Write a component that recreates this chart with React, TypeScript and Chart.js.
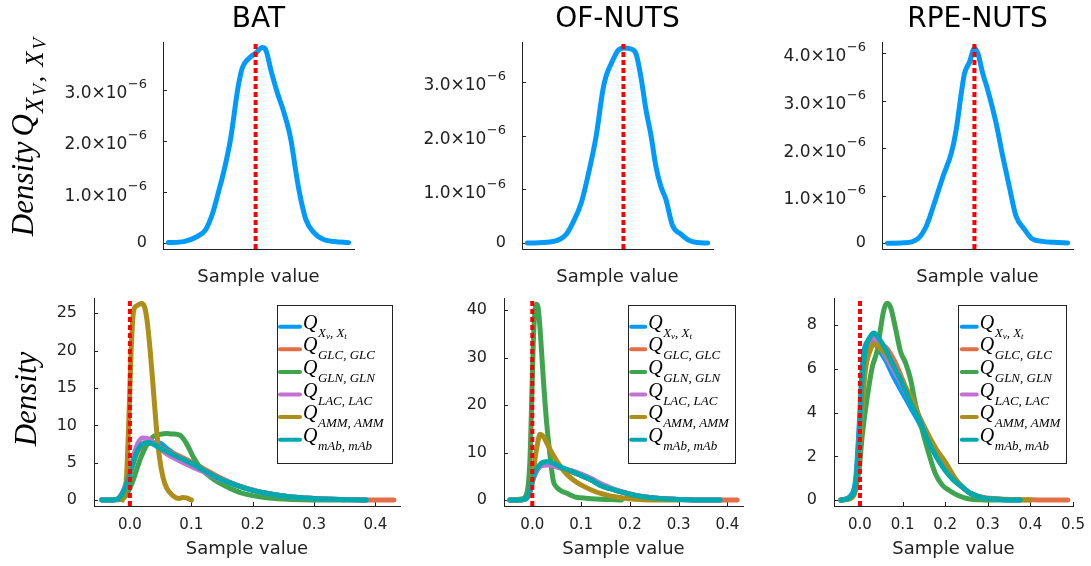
import React, { useEffect, useRef } from "react";
import { Chart, registerables } from "chart.js";
Chart.register(...registerables);

const SANS = '"DejaVu Sans", sans-serif';
const SERIF = '"Liberation Serif", "DejaVu Serif", serif';
const AXIS = "#222222";
const TEXT = "#222222";
const PALETTE = ["#009AFA", "#E36F47", "#3EA44E", "#C371D2", "#AC8E18", "#00A9AD"];
const TRUE_RED = "#FF0000";

// ---------- legend names (Q with subscripts) ----------
const LEGEND_MAIN = "Q";
const LEGEND_SUBS = [
  [{ t: "X" }, { t: "v", sub: true }, { t: ", " }, { t: "X" }, { t: "t", sub: true }],
  [{ t: "GLC, GLC" }],
  [{ t: "GLN, GLN" }],
  [{ t: "LAC, LAC" }],
  [{ t: "AMM, AMM" }],
  [{ t: "mAb, mAb" }],
];
const TITLES = ["BAT", "OF-NUTS", "RPE-NUTS"];
const X_LABEL = "Sample value";

// ---------- top row: density of Q_{XV,XV} (x in relative units, ticks hidden) ----------
const BAT_TOP_X = [0, 8.5, 16, 20.6, 24.3, 28, 30.8, 34.5, 38.6, 41, 44.7, 48.4, 52.1, 54, 56.8, 60.5, 64.2, 67.9, 70.7, 72.5, 76.3, 80.9, 86.5, 92, 100];
const BAT_TOP_Y = [0.01e-6, 0.03e-6, 0.13e-6, 0.26e-6, 0.56e-6, 1.03e-6, 1.41e-6, 2.04e-6, 3.04e-6, 3.43e-6, 3.62e-6, 3.72e-6, 3.83e-6, 3.79e-6, 3.4e-6, 2.94e-6, 2.55e-6, 2.04e-6, 1.41e-6, 1.03e-6, 0.46e-6, 0.2e-6, 0.065e-6, 0.03e-6, 0.01e-6];
const OF_TOP_X = [0, 12.5, 18, 21.7, 25.4, 30, 33.6, 38.2, 41.9, 43.8, 47.4, 50.2, 53.3, 57.5, 60.3, 63, 65.8, 68.6, 71.3, 74, 76.8, 80.5, 85, 89.7, 94, 100];
const OF_TOP_Y = [0, 0.02e-6, 0.07e-6, 0.17e-6, 0.39e-6, 0.76e-6, 1.25e-6, 2.0e-6, 2.85e-6, 3.12e-6, 3.4e-6, 3.58e-6, 3.63e-6, 3.61e-6, 3.52e-6, 3.09e-6, 2.48e-6, 2.0e-6, 1.43e-6, 1.06e-6, 0.82e-6, 0.33e-6, 0.17e-6, 0.05e-6, 0.01e-6, 0];
const RPE_TOP_X = [0, 8.8, 17, 21.7, 26.2, 30.9, 35.5, 38.2, 41, 42.8, 45.6, 48.3, 50.2, 52.9, 55.7, 60.3, 64, 67.6, 71.3, 75.9, 80.5, 86, 92.5, 100];
const RPE_TOP_Y = [0, 0.01e-6, 0.1e-6, 0.37e-6, 0.86e-6, 1.41e-6, 1.9e-6, 2.39e-6, 3.15e-6, 3.57e-6, 3.81e-6, 4.1e-6, 3.99e-6, 3.57e-6, 3.22e-6, 2.53e-6, 1.83e-6, 1.2e-6, 0.58e-6, 0.3e-6, 0.09e-6, 0.04e-6, 0.02e-6, 0.007e-6];
const TOP_TRUE = [48.4, 53.3, 48.3];

// ---------- bottom row: BAT ----------
const BAT_GRID = [-0.046, -0.03, -0.02, -0.01, 0, 0.01, 0.02, 0.03, 0.04, 0.05, 0.06, 0.08, 0.1, 0.12, 0.14, 0.16, 0.18, 0.2, 0.22, 0.25, 0.28, 0.3, 0.33, 0.36, 0.385];
const BAT_XVXT = [0, 0.02, 0.15, 1.3, 3.7, 6.2, 7.3, 7.6, 7.7, 7.6, 6.9, 5.8, 4.9, 4.0, 3.1, 2.4, 1.8, 1.3, 0.95, 0.55, 0.3, 0.2, 0.1, 0.04, 0];
const BAT_GLC_X = [-0.046, -0.03, -0.02, -0.01, 0, 0.01, 0.02, 0.03, 0.04, 0.05, 0.06, 0.08, 0.1, 0.12, 0.14, 0.16, 0.18, 0.2, 0.22, 0.25, 0.28, 0.3, 0.33, 0.36, 0.385, 0.41, 0.43];
const BAT_GLC = [0, 0.02, 0.15, 1.2, 3.5, 6.0, 7.3, 7.6, 7.5, 7.0, 6.6, 5.9, 5.1, 4.2, 3.3, 2.5, 1.85, 1.35, 0.95, 0.55, 0.3, 0.2, 0.1, 0.04, 0.01, 0, 0];
const BAT_GLN_X = [-0.03, -0.015, -0.005, 0.005, 0.016, 0.027, 0.038, 0.049, 0.06, 0.07, 0.081, 0.092, 0.103, 0.114, 0.125, 0.136, 0.15, 0.165, 0.18, 0.2, 0.22, 0.25, 0.28, 0.31, 0.35];
const BAT_GLN = [0, 0.1, 0.8, 2.6, 5.3, 7.3, 8.5, 8.8, 8.9, 8.85, 8.7, 7.6, 5.8, 4.4, 3.5, 2.8, 2.1, 1.5, 1.0, 0.6, 0.35, 0.15, 0.05, 0.02, 0];
const BAT_LAC = [0, 0.02, 0.15, 1.4, 3.9, 7.0, 8.3, 8.2, 7.5, 6.8, 6.2, 5.3, 4.5, 3.8, 3.0, 2.4, 1.8, 1.3, 0.95, 0.55, 0.3, 0.2, 0.1, 0.04, 0];
const BAT_AMM_X = [-0.012, -0.006, -0.002, 0.002, 0.006, 0.011, 0.019, 0.024, 0.028, 0.033, 0.038, 0.043, 0.048, 0.054, 0.06, 0.07, 0.08, 0.086, 0.092, 0.1];
const BAT_AMM = [0, 2.5, 10, 20, 25.3, 26.0, 26.3, 25.8, 24.0, 20.0, 15.0, 9.8, 5.8, 3.0, 1.6, 0.6, 0.2, 0.35, 0.3, 0];
const BAT_MAB = [0, 0.02, 0.15, 1.2, 3.5, 6.2, 7.5, 7.7, 7.4, 6.9, 6.5, 5.7, 4.9, 4.0, 3.1, 2.4, 1.8, 1.3, 0.95, 0.55, 0.3, 0.2, 0.1, 0.04, 0];

// ---------- bottom row: OF-NUTS ----------
const OF_GRID = [-0.046, -0.02, -0.01, -0.004, 0, 0.005, 0.01, 0.015, 0.02, 0.03, 0.04, 0.05, 0.06, 0.08, 0.1, 0.12, 0.14, 0.16, 0.18, 0.2, 0.22, 0.25, 0.28, 0.32, 0.36, 0.385];
const OF_XVXT = [0, 0.1, 0.7, 2.2, 4.0, 5.6, 6.6, 7.3, 7.8, 8.0, 7.8, 7.3, 6.8, 6.0, 5.2, 4.3, 3.1, 2.4, 1.8, 1.25, 0.8, 0.45, 0.25, 0.08, 0.02, 0];
const OF_GLC_X = [-0.046, -0.02, -0.01, -0.004, 0, 0.005, 0.01, 0.015, 0.02, 0.03, 0.04, 0.05, 0.06, 0.08, 0.1, 0.12, 0.14, 0.16, 0.18, 0.2, 0.22, 0.25, 0.28, 0.32, 0.36, 0.385, 0.4, 0.42];
const OF_GLC = [0, 0.1, 0.6, 2.1, 3.9, 5.4, 6.4, 7.1, 7.5, 7.7, 7.5, 7.1, 6.7, 6.0, 5.2, 4.3, 3.2, 2.4, 1.8, 1.25, 0.8, 0.45, 0.25, 0.08, 0.02, 0.01, 0, 0];
const OF_GLN_X = [-0.046, -0.02, -0.01, -0.005, -0.002, 0.002, 0.006, 0.009, 0.012, 0.016, 0.023, 0.029, 0.036, 0.043, 0.05, 0.06, 0.07, 0.08, 0.09, 0.1, 0.115, 0.13, 0.15, 0.17, 0.183];
const OF_GLN = [0, 0.3, 2.0, 8, 18, 33, 40.5, 41.3, 40.5, 36, 25, 16.8, 9.7, 4.1, 2.7, 1.9, 1.5, 1.0, 0.6, 0.5, 0.35, 0.25, 0.15, 0.1, 0];
const OF_LAC = [0, 0.1, 0.6, 2.0, 3.8, 5.3, 6.3, 7.0, 7.3, 7.4, 7.3, 7.0, 6.7, 6.2, 5.5, 4.6, 3.5, 2.6, 1.9, 1.3, 0.85, 0.45, 0.25, 0.08, 0.02, 0];
const OF_AMM_X = [-0.046, -0.02, -0.01, -0.003, 0.002, 0.006, 0.01, 0.016, 0.022, 0.03, 0.04, 0.05, 0.06, 0.07, 0.085, 0.1, 0.12, 0.14, 0.16, 0.18, 0.2, 0.22, 0.25, 0.28, 0.3];
const OF_AMM = [0, 0.1, 0.6, 2.5, 5.5, 9, 11.5, 13.9, 13.5, 12.0, 10.0, 8.3, 6.8, 5.5, 4.2, 3.2, 2.2, 1.4, 0.9, 0.55, 0.3, 0.15, 0.05, 0.02, 0];
const OF_MAB = [0, 0.1, 0.7, 2.3, 4.1, 5.7, 6.7, 7.4, 7.9, 8.1, 7.9, 7.4, 6.9, 6.1, 5.2, 4.3, 3.1, 2.4, 1.8, 1.25, 0.8, 0.45, 0.25, 0.08, 0.02, 0];

// ---------- bottom row: RPE-NUTS ----------
const RPE_GRID = [-0.045, -0.022, -0.01, -0.002, 0.005, 0.013, 0.025, 0.033, 0.044, 0.06, 0.08, 0.1, 0.12, 0.14, 0.16, 0.18, 0.2, 0.22, 0.24, 0.26, 0.29, 0.33, 0.376];
const RPE_XVXT = [0, 0.2, 1.0, 3.4, 6.0, 7.1, 7.3, 7.2, 6.9, 6.4, 5.6, 4.9, 4.2, 3.5, 2.7, 2.0, 1.4, 0.95, 0.6, 0.3, 0.1, 0.03, 0];
const RPE_GLC_X = [-0.045, -0.022, -0.01, -0.002, 0.005, 0.013, 0.025, 0.033, 0.044, 0.06, 0.08, 0.1, 0.12, 0.14, 0.16, 0.18, 0.2, 0.22, 0.24, 0.26, 0.29, 0.33, 0.376, 0.42, 0.46, 0.488];
const RPE_GLC = [0, 0.12, 0.65, 2.6, 5.0, 6.5, 7.1, 7.15, 7.1, 7.0, 6.4, 5.5, 4.5, 3.7, 2.8, 2.0, 1.4, 0.95, 0.6, 0.3, 0.12, 0.05, 0.02, 0.01, 0, 0];
const RPE_GLN_X = [-0.045, -0.03, -0.014, -0.002, 0.005, 0.017, 0.029, 0.04, 0.048, 0.056, 0.064, 0.072, 0.084, 0.095, 0.107, 0.119, 0.13, 0.146, 0.162, 0.177, 0.193, 0.208, 0.228, 0.251, 0.29, 0.36];
const RPE_GLN = [0, 0.03, 0.3, 1.4, 2.9, 4.7, 6.1, 6.8, 7.8, 8.7, 9.0, 8.8, 7.8, 6.8, 6.27, 5.5, 4.4, 3.2, 2.1, 1.2, 0.69, 0.46, 0.23, 0.07, 0.01, 0];
const RPE_LAC = [0, 0.15, 0.7, 2.7, 5.2, 6.7, 7.4, 7.4, 7.1, 6.6, 5.9, 5.2, 4.4, 3.7, 2.8, 2.05, 1.45, 0.95, 0.6, 0.3, 0.1, 0.03, 0];
const RPE_AMM_X = [-0.045, -0.022, -0.01, -0.002, 0.005, 0.013, 0.025, 0.033, 0.044, 0.06, 0.08, 0.1, 0.12, 0.14, 0.16, 0.18, 0.2, 0.22, 0.24, 0.26, 0.29, 0.33, 0.376, 0.4];
const RPE_AMM = [0, 0.1, 0.5, 2.2, 4.2, 6.0, 6.9, 7.15, 7.0, 6.7, 6.1, 5.4, 4.7, 3.8, 3.0, 2.3, 1.75, 1.1, 0.6, 0.3, 0.1, 0.04, 0.01, 0];
const RPE_MAB = [0, 0.15, 0.76, 2.9, 5.5, 6.9, 7.5, 7.64, 7.4, 6.9, 6.1, 5.3, 4.4, 3.65, 2.7, 1.95, 1.35, 0.9, 0.6, 0.3, 0.1, 0.03, 0];
const BOTTOM_TRUE = 0;

// ---------- ticks ----------
const TOP_YTICKS_3 = [0, 1e-6, 2e-6, 3e-6];
const TOP_YTICKS_4 = [0, 1e-6, 2e-6, 3e-6, 4e-6];
const BAT_YTICKS = [0, 5, 10, 15, 20, 25];
const OF_YTICKS = [0, 10, 20, 30, 40];
const RPE_YTICKS = [0, 2, 4, 6, 8];
const X_TICKS_4 = [0, 0.1, 0.2, 0.3, 0.4];
const X_TICKS_5 = [0, 0.1, 0.2, 0.3, 0.4, 0.5];

type Series = { x: number[]; y: number[] };
type Panel = {
  key: string;
  box: [number, number, number, number];
  area: [number, number, number, number];
  xr: [number, number];
  yr: [number, number];
  xTicks: number[];
  yTicks: number[];
  series: Series[];
  truth: number;
  lw: number;
  top: boolean;
  title?: string;
  yLabel?: "top" | "bottom";
  legend?: { w: number; gapR: number; line: number };
};

const PANELS: Panel[] = [
  {
    key: "tl", box: [0, 0, 365, 288], area: [163, 42, 354, 249], xr: [-3, 103], yr: [-0.115e-6, 3.94e-6],
    xTicks: [], yTicks: TOP_YTICKS_3, series: [{ x: BAT_TOP_X, y: BAT_TOP_Y }], truth: TOP_TRUE[0], lw: 5, top: true,
    title: TITLES[0], yLabel: "top",
  },
  {
    key: "tm", box: [365, 0, 360, 288], area: [522, 42, 713, 249], xr: [-3, 103], yr: [-0.11e-6, 3.74e-6],
    xTicks: [], yTicks: TOP_YTICKS_3, series: [{ x: OF_TOP_X, y: OF_TOP_Y }], truth: TOP_TRUE[1], lw: 5, top: true,
    title: TITLES[1],
  },
  {
    key: "tr", box: [725, 0, 366, 288], area: [882, 42, 1073, 249], xr: [-3, 103], yr: [-0.12e-6, 4.23e-6],
    xTicks: [], yTicks: TOP_YTICKS_4, series: [{ x: RPE_TOP_X, y: RPE_TOP_Y }], truth: TOP_TRUE[2], lw: 5, top: true,
    title: TITLES[2],
  },
  {
    key: "bl", box: [0, 288, 415, 278], area: [94, 298, 400, 506], xr: [-0.0585, 0.44], yr: [-0.79, 27.05],
    xTicks: X_TICKS_4, yTicks: BAT_YTICKS,
    series: [
      { x: BAT_GRID, y: BAT_XVXT }, { x: BAT_GLC_X, y: BAT_GLC }, { x: BAT_GLN_X, y: BAT_GLN },
      { x: BAT_GRID, y: BAT_LAC }, { x: BAT_AMM_X, y: BAT_AMM }, { x: BAT_GRID, y: BAT_MAB },
    ],
    truth: BOTTOM_TRUE, lw: 5, top: false, yLabel: "bottom", legend: { w: 114.5, gapR: 9, line: 24 },
  },
  {
    key: "bm", box: [415, 288, 345, 278], area: [504, 298, 743, 506], xr: [-0.058, 0.432], yr: [-1.24, 42.6],
    xTicks: X_TICKS_4, yTicks: OF_YTICKS,
    series: [
      { x: OF_GRID, y: OF_XVXT }, { x: OF_GLC_X, y: OF_GLC }, { x: OF_GLN_X, y: OF_GLN },
      { x: OF_GRID, y: OF_LAC }, { x: OF_AMM_X, y: OF_AMM }, { x: OF_GRID, y: OF_MAB },
    ],
    truth: BOTTOM_TRUE, lw: 5, top: false, legend: { w: 107.3, gapR: 8, line: 18 },
  },
  {
    key: "br", box: [760, 288, 331, 278], area: [834, 298, 1073, 506], xr: [-0.061, 0.5], yr: [-0.27, 9.24],
    xTicks: X_TICKS_5, yTicks: RPE_YTICKS,
    series: [
      { x: RPE_GRID, y: RPE_XVXT }, { x: RPE_GLC_X, y: RPE_GLC }, { x: RPE_GLN_X, y: RPE_GLN },
      { x: RPE_GRID, y: RPE_LAC }, { x: RPE_AMM_X, y: RPE_AMM }, { x: RPE_GRID, y: RPE_MAB },
    ],
    truth: BOTTOM_TRUE, lw: 5, top: false, legend: { w: 107.7, gapR: 7, line: 19 },
  },
];

type Seg = { t: string; s: number; dy: number; gap?: number };

function drawRotated(ctx: CanvasRenderingContext2D, segs: Seg[], baseX: number, cy: number) {
  ctx.save();
  ctx.translate(baseX, cy);
  ctx.rotate(-Math.PI / 2);
  ctx.fillStyle = "#000";
  ctx.textAlign = "left";
  ctx.textBaseline = "alphabetic";
  const widths = segs.map((s) => {
    ctx.font = `italic ${s.s}px ${SERIF}`;
    return ctx.measureText(s.t).width + (s.gap || 0);
  });
  const total = widths.reduce((a, b) => a + b, 0);
  let x = -total / 2;
  segs.forEach((s, i) => {
    ctx.font = `italic ${s.s}px ${SERIF}`;
    ctx.fillText(s.t, x, s.dy);
    x += widths[i];
  });
  ctx.restore();
}

function makeDecor(p: Panel) {
  const ct = p.box[1];
  return {
    id: "decor",
    beforeDatasetsDraw(chart: any) {
      const ctx: CanvasRenderingContext2D = chart.ctx;
      const a = chart.chartArea;
      const xs = chart.scales.x;
      const ys = chart.scales.y;
      ctx.save();
      ctx.strokeStyle = AXIS;
      ctx.lineWidth = 1;
      ctx.beginPath();
      p.yTicks.forEach((v) => {
        const y = Math.round(ys.getPixelForValue(v)) + 0.5;
        ctx.moveTo(a.left, y);
        ctx.lineTo(a.left + 4, y);
      });
      p.xTicks.forEach((v) => {
        const x = Math.round(xs.getPixelForValue(v)) + 0.5;
        ctx.moveTo(x, a.bottom);
        ctx.lineTo(x, a.bottom - 4);
      });
      ctx.stroke();
      ctx.restore();
    },
    afterDraw(chart: any) {
      const ctx: CanvasRenderingContext2D = chart.ctx;
      const a = chart.chartArea;
      const ys = chart.scales.y;
      const cx = (a.left + a.right) / 2;
      ctx.save();
      ctx.fillStyle = "#000";
      if (p.title) {
        ctx.font = `28px ${SANS}`;
        ctx.textAlign = "center";
        ctx.textBaseline = "alphabetic";
        ctx.fillText(p.title, cx, 27 - ct);
      }
      ctx.fillStyle = TEXT;
      ctx.font = `18px ${SANS}`;
      ctx.textAlign = "center";
      ctx.textBaseline = "alphabetic";
      ctx.fillText(X_LABEL, cx, p.top ? a.bottom + 33 : a.bottom + 47.5);
      if (p.top) {
        const rx = a.left - 16;
        ctx.textAlign = "right";
        ctx.textBaseline = "middle";
        p.yTicks.forEach((v) => {
          const y = ys.getPixelForValue(v);
          if (v === 0) {
            ctx.font = `16px ${SANS}`;
            ctx.fillText("0", rx, y);
            return;
          }
          const e = Math.floor(Math.log10(v) + 1e-9);
          const m = v / Math.pow(10, e);
          const sup = (e < 0 ? "\u2212" : "") + String(Math.abs(e));
          ctx.font = `13px ${SANS}`;
          const sw = ctx.measureText(sup).width;
          ctx.fillText(sup, rx, y - 5);
          ctx.font = `17px ${SANS}`;
          ctx.fillText(m.toFixed(1) + "\u00d710", rx - sw - 0.5, y + 4);
        });
      }
      if (p.yLabel === "top") {
        drawRotated(ctx, [
          { t: "Density", s: 31, dy: 0, gap: 5 },
          { t: "Q", s: 31, dy: 0, gap: 1 },
          { t: "X", s: 25, dy: 10, gap: 2 },
          { t: "V", s: 19, dy: 13, gap: 2 },
          { t: ", ", s: 25, dy: 10, gap: 3 },
          { t: "X", s: 25, dy: 10, gap: 2 },
          { t: "V", s: 19, dy: 13 },
        ], 33, 137 - ct);
      } else if (p.yLabel === "bottom") {
        drawRotated(ctx, [{ t: "Density", s: 31, dy: 0 }], 36, 399 - ct);
      }
      if (p.legend) {
        const L = p.legend;
        const right = a.right - L.gapR;
        const left = right - L.w;
        const top = a.top + 7;
        const h = 158;
        ctx.fillStyle = "#fff";
        ctx.fillRect(left, top, L.w, h);
        ctx.strokeStyle = AXIS;
        ctx.lineWidth = 1;
        ctx.strokeRect(Math.round(left) + 0.5, Math.round(top) + 0.5, Math.round(L.w), h);
        LEGEND_SUBS.forEach((segs, i) => {
          const y = top + 21.7 + i * 22.6;
          ctx.strokeStyle = PALETTE[i];
          ctx.lineWidth = 4;
          ctx.lineCap = "round";
          ctx.beginPath();
          ctx.moveTo(left + 3.5, y);
          ctx.lineTo(left + L.line - 0.5, y);
          ctx.stroke();
          let x = left + L.line + 2.5;
          ctx.fillStyle = "#000";
          ctx.textAlign = "left";
          ctx.textBaseline = "alphabetic";
          ctx.font = `italic 20px ${SERIF}`;
          ctx.fillText(LEGEND_MAIN, x, y + 2);
          x += ctx.measureText(LEGEND_MAIN).width + 0.5;
          segs.forEach((sg: any) => {
            ctx.font = `italic ${sg.sub ? 9 : 13}px ${SERIF}`;
            ctx.fillText(sg.t, x, y + (sg.sub ? 12.5 : 10));
            x += ctx.measureText(sg.t).width;
          });
        });
      }
      ctx.restore();
    },
  };
}

function PanelChart({ p }: { p: Panel }) {
  const ref = useRef<HTMLCanvasElement>(null);
  useEffect(() => {
    const [cl, ct, cw, ch] = p.box;
    const [al, at, ar, ab] = p.area;
    const n = p.series.length;
    const datasets: any[] = p.series.map((s, i) => ({
      data: s.x.map((x, j) => ({ x, y: s.y[j] })),
      borderColor: PALETTE[i],
      borderWidth: p.lw,
      pointRadius: 0,
      fill: false,
      cubicInterpolationMode: "monotone",
      borderJoinStyle: "round",
      borderCapStyle: "round",
      order: n - i,
    }));
    datasets.push({
      data: [{ x: p.truth, y: p.yr[0] }, { x: p.truth, y: p.yr[1] }],
      borderColor: TRUE_RED,
      borderWidth: 4,
      borderDash: [5, 3],
      pointRadius: 0,
      fill: false,
      order: 0,
    });
    const chart = new Chart(ref.current as HTMLCanvasElement, {
      type: "line",
      data: { datasets },
      options: {
        responsive: false,
        maintainAspectRatio: false,
        animation: false,
        devicePixelRatio: 1,
        events: [],
        layout: { padding: { left: 0, bottom: 0, top: at - ct, right: cl + cw - ar } },
        plugins: { legend: { display: false }, tooltip: { enabled: false }, title: { display: false } },
        scales: {
          x: {
            type: "linear",
            min: p.xr[0],
            max: p.xr[1],
            grid: { display: false, drawTicks: false },
            border: { display: true, color: AXIS, width: 1 },
            ticks: {
              display: !p.top,
              autoSkip: false,
              maxRotation: 0,
              padding: 10,
              color: TEXT,
              font: { family: SANS, size: 15 },
              callback: (v: any) => Number(v).toFixed(1),
            },
            afterBuildTicks: (s: any) => {
              s.ticks = p.xTicks.map((v) => ({ value: v }));
            },
            afterFit: (s: any) => {
              s.height = ct + ch - ab;
              s.paddingLeft = 0;
              s.paddingRight = 0;
              s.paddingTop = 0;
              s.paddingBottom = 0;
            },
          },
          y: {
            type: "linear",
            min: p.yr[0],
            max: p.yr[1],
            grid: { display: false, drawTicks: false },
            border: { display: true, color: AXIS, width: 1 },
            ticks: {
              display: !p.top,
              padding: 17,
              color: TEXT,
              font: { family: SANS, size: 16 },
              callback: (v: any) => String(v),
            },
            afterBuildTicks: (s: any) => {
              s.ticks = p.yTicks.map((v) => ({ value: v }));
            },
            afterFit: (s: any) => {
              s.width = al - cl;
              s.paddingLeft = 0;
              s.paddingRight = 0;
              s.paddingTop = 0;
              s.paddingBottom = 0;
            },
          },
        },
      } as any,
      plugins: [makeDecor(p) as any],
    });
    return () => chart.destroy();
  }, [p]);
  const [cl, ct, cw, ch] = p.box;
  return (
    <canvas
      ref={ref}
      width={cw}
      height={ch}
      style={{ position: "absolute", left: cl, top: ct, width: cw, height: ch, display: "block" }}
    />
  );
}

export default function App() {
  return (
    <div style={{ position: "absolute", left: 0, top: 0, width: 1091, height: 566, background: "#fff", overflow: "hidden" }}>
      {PANELS.map((p) => (
        <PanelChart key={p.key} p={p} />
      ))}
    </div>
  );
}
